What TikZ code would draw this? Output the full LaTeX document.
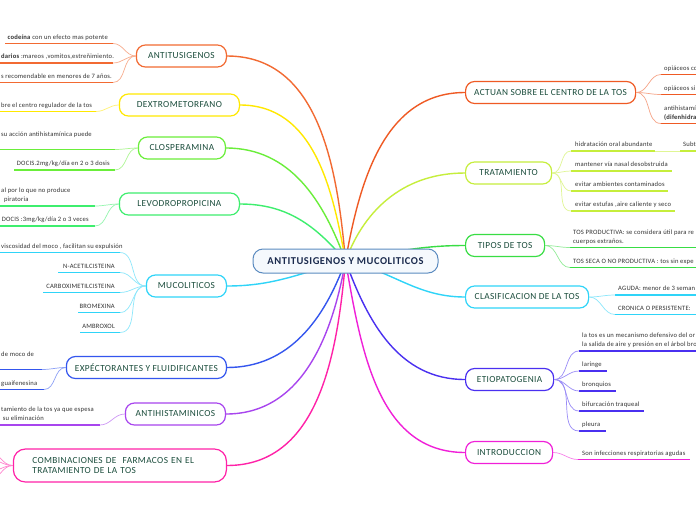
\documentclass[tikz,border=0pt]{standalone}
\usepackage{fontspec}
\setmainfont{Carlito}
\newfontfamily\leaffont[LetterSpace=3]{Carlito}
\newfontfamily\branchfont[LetterSpace=4]{Carlito}
\newfontfamily\rootfont[LetterSpace=5]{Carlito}
\usetikzlibrary{backgrounds}
\definecolor{cOrange}{HTML}{F26A32}
\definecolor{cRed}{HTML}{EF5A24}
\definecolor{cYellow}{HTML}{FFE800}
\definecolor{cLime}{HTML}{C6EE3C}
\definecolor{cGreenA}{HTML}{6AEE3A}
\definecolor{cGreenB}{HTML}{3EEE6E}
\definecolor{cGreenC}{HTML}{38DD44}
\definecolor{cCyan}{HTML}{2FD4F8}
\definecolor{cBlue}{HTML}{3456EE}
\definecolor{cIndigo}{HTML}{4A30F0}
\definecolor{cPurple}{HTML}{A845EE}
\definecolor{cPink}{HTML}{FF22A8}
\definecolor{cMagenta}{HTML}{F020D8}
\definecolor{cRootLine}{HTML}{5B8BC0}
\definecolor{cRootFill}{HTML}{F5F9FD}
\definecolor{cRootText}{HTML}{1B2B4E}
\definecolor{cBranchText}{HTML}{1B4D3C}
\definecolor{cLeafText}{HTML}{333333}
\tikzset{
	root/.style={draw=cRootLine, fill=cRootFill, line width=1pt, rounded corners=10pt,
		minimum width=185pt, minimum height=24pt, text=cRootText,
		font=\rootfont\bfseries\fontsize{10.5}{12}\selectfont},
	branch/.style={draw=#1, fill=white, line width=1.2pt, rounded corners=9pt,
		minimum height=22pt, text=cBranchText, font=\branchfont\fontsize{9.3}{10.8}\selectfont},
	link/.style={draw=#1, line width=1.4pt},
	twig/.style={draw=#1!55, line width=0.7pt},
	uline/.style={line width=1.5pt},
	leaftext/.style={font=\leaffont\fontsize{6.6}{9}\selectfont, text=cLeafText, inner sep=0pt,
		text depth=1.8pt, align=left}
}
% leaf: name, underline from x, to x, y, colour, text anchor, text x, text
\newcommand{\leaf}[8]
{
	% underline
	\draw[#5, uline] (#2,#4) coordinate (#1w) -- (#3,#4) coordinate (#1e);
	% text on it
	\node[leaftext, anchor=#6] (#1) at (#7,#4-2.5) {#8};
}
\begin{document}
\begin{tikzpicture}[x=1pt, y=-1pt]
	% page: 696 x 520
	\useasboundingbox (0,0) rectangle (696,520);
	\begin{scope}[on background layer]
		\fill[white] (0,0) rectangle (696,520);
	\end{scope}
	\clip (0,0) rectangle (696,520);
	
	\node[root] (root) at (345.5,261) {ANTITUSIGENOS Y MUCOLITICOS};
	
	% left branches
	\node[branch=cOrange, minimum width=90pt, anchor=east] (anti) at (227,56) {ANTITUSIGENOS};
	\node[branch=cYellow, minimum width=120pt, anchor=east] (dextro) at (240,105) {DEXTROMETORFANO};
	\node[branch=cGreenA, minimum width=87pt, anchor=east] (closp) at (226,148) {CLOSPERAMINA};
	\node[branch=cGreenB, minimum width=120pt, anchor=east] (levo) at (240,204) {LEVODROPROPICINA};
	\node[branch=cCyan, minimum width=80pt, anchor=east] (muco) at (227,286) {MUCOLITICOS};
	\node[branch=cBlue, minimum width=160pt, anchor=east] (expec) at (227,367.5) {EXPÉCTORANTES Y FLUIDIFICANTES};
	\node[branch=cPurple, minimum width=100pt, anchor=east] (antih) at (226,414) {ANTIHISTAMINICOS};
	\node[branch=cPink, minimum height=33pt, rounded corners=12pt, text width=175pt, inner xsep=19pt,
		align=left, anchor=east] (combi) at (227,465.5) {COMBINACIONES DE~ FARMACOS EN EL\\TRATAMIENTO DE LA TOS};
	
	% right branches
	\node[branch=cRed, minimum width=170pt, anchor=west] (actuan) at (465,92.5) {ACTUAN SOBRE EL CENTRO DE LA TOS};
	\node[branch=cLime, minimum width=86pt, anchor=west] (trat) at (465,173) {TRATAMIENTO};
	\node[branch=cGreenC, minimum width=79pt, anchor=west] (tipos) at (465,245.5) {TIPOS DE TOS};
	\node[branch=cCyan, minimum width=123pt, anchor=west] (clasif) at (465,297) {CLASIFICACION DE LA TOS};
	\node[branch=cIndigo, minimum width=88pt, anchor=west] (etio) at (465,379.5) {ETIOPATOGENIA};
	\node[branch=cMagenta, minimum width=87pt, anchor=west] (intro) at (465,452.5) {INTRODUCCION};
	
	% leaves, left side
	\leaf{a1}{5}{113}{43.5}{cOrange}{south east}{108}{\textbf{codeína} con un efecto mas potente};
	\leaf{a2}{-5}{113}{63}{cOrange}{south west}{1}{\textbf{darios} :mareos ,vomitos,estreñimiento.};
	\leaf{a3}{-5}{113}{82.5}{cOrange}{south west}{1}{s recomendable en menores de 7 años.};
	\leaf{d1}{-5}{96}{111.5}{cYellow}{south west}{1}{bre el centro regulador de la tos};
	\leaf{c1}{-5}{115}{149.5}{cGreenA}{south west}{1}{su acción antihistamínica puede\\\mbox{}};
	\leaf{c2}{14}{115}{170}{cGreenA}{south east}{110}{DOCIS.2mg/kg/día en 2 o 3 dosis};
	\leaf{l1}{-5}{95}{206}{cGreenB}{south west, align=right}{1}{al por lo que no produce\\piratoria\hspace*{42pt}};
	\leaf{l2}{-1}{95}{226}{cGreenB}{south east}{89}{DOCIS :3mg/kg/día 2 o 3 veces};
	\leaf{m1}{-5}{120}{252.5}{cCyan}{south west}{1}{viscosidad del moco , facilitan su expulsión};
	\leaf{m2}{58}{120}{272.5}{cCyan}{south east}{115}{N-ACETILCISTEINA};
	\leaf{m3}{43}{120}{292.5}{cCyan}{south east}{115}{CARBOXIMETILCISTEINA};
	\leaf{m4}{78}{120}{312.5}{cCyan}{south east}{115}{BROMEXINA};
	\leaf{m5}{80}{120}{332.5}{cCyan}{south east}{115}{AMBROXOL};
	\leaf{e1}{-5}{42}{369.5}{cBlue}{south west}{1}{de moco de\\\mbox{}};
	\leaf{e2}{-5}{44}{389.5}{cBlue}{south west}{1}{guaifenesina};
	\leaf{h1}{-5}{100}{425}{cPurple}{south west, align=right}{1}{tamiento de la tos ya que espesa\\su eliminación\hspace*{50pt}};
	
	% leaves, right side
	\leaf{r1}{661}{705}{74.5}{cRed}{south west}{664}{opiáceos co};
	\leaf{r2}{661}{705}{94.5}{cRed}{south west}{664}{opiáceos si};
	\leaf{r3}{661}{705}{123.5}{cRed}{south west}{664}{antihistamí\\\textbf{(difenhidra}};
	\leaf{t1}{571}{655}{151}{cLime}{south west}{575}{hidratación oral abundante};
	\leaf{t5}{680}{705}{151}{cLime}{south west}{683}{Subt};
	\leaf{t2}{571}{672}{171}{cLime}{south west}{575}{mantener vía nasal desobstruida};
	\leaf{t3}{571}{668}{191}{cLime}{south west}{575}{evitar ambientes contaminados};
	\leaf{t4}{571}{675}{211}{cLime}{south west}{575}{evitar estufas ,aire caliente y seco};
	\leaf{p1}{570}{705}{247.5}{cGreenC}{south west}{573}{TOS PRODUCTIVA: se considera útil para re\\cuerpos extraños.};
	\leaf{p2}{570}{705}{267.5}{cGreenC}{south west}{573}{TOS SECA O NO PRODUCTIVA : tos sin expe};
	\leaf{k1}{615}{705}{295}{cCyan}{south west}{618}{AGUDA: menor de 3 seman};
	\leaf{k2}{615}{705}{314.5}{cCyan}{south west}{618}{CRONICA O PERSISTENTE:};
	\leaf{g1}{579}{705}{351}{cIndigo}{south west}{582}{la tos es un mecanismo defensivo del or\\la salida de aire y presión en el árbol bro};
	\leaf{g2}{579}{607}{371}{cIndigo}{south west}{582}{laringe};
	\leaf{g3}{579}{616}{391}{cIndigo}{south west}{582}{bronquios};
	\leaf{g4}{579}{644}{411}{cIndigo}{south west}{582}{bifurcación traqueal};
	\leaf{g5}{579}{606}{431}{cIndigo}{south west}{582}{pleura};
	\leaf{i1}{578}{690}{459.5}{cMagenta}{south west}{582}{Son infecciones respiratorias agudas};
	
	% ends of the pink twigs, off the page
	\coordinate (x1) at (-12,451);
	\coordinate (x2) at (-12,459);
	\coordinate (x3) at (-12,472);
	\coordinate (x4) at (-12,481);
	
	\begin{scope}[on background layer]
		% root to branches
		\draw[link=cOrange] (root.center) to[out=95, in=0] (anti.east);
		\draw[link=cYellow] (root.center) to[out=100, in=0] (dextro.east);
		\draw[link=cGreenA] (root.center) to[out=110, in=0] (closp.east);
		\draw[link=cGreenB] (root.center) to[out=130, in=0] (levo.east);
		\draw[link=cCyan] (root.center) to[out=195, in=0] (muco.east);
		\draw[link=cBlue] (root.center) to[out=-110, in=0] (expec.east);
		\draw[link=cPurple] (root.center) to[out=-100, in=0] (antih.east);
		\draw[link=cPink] (root.center) to[out=-95, in=0] (combi.east);
		\draw[link=cRed] (root.center) to[out=80, in=180] (actuan.west);
		\draw[link=cLime] (root.center) to[out=70, in=180] (trat.west);
		\draw[link=cGreenC] (root.center) to[out=10, in=180] (tipos.west);
		\draw[link=cCyan] (root.center) to[out=-12, in=180] (clasif.west);
		\draw[link=cIndigo] (root.center) to[out=-70, in=180] (etio.west);
		\draw[link=cMagenta] (root.center) to[out=-80, in=180] (intro.west);
	\end{scope}
	
	% branches to leaves
	\foreach \n in {a1,a2,a3} \draw[twig=cOrange] (anti.west) to[out=180, in=0] (\n e);
	\draw[twig=cYellow] (dextro.west) to[out=180, in=0] (d1e);
	\foreach \n in {c1,c2} \draw[twig=cGreenA] (closp.west) to[out=180, in=0] (\n e);
	\foreach \n in {l1,l2} \draw[twig=cGreenB] (levo.west) to[out=180, in=0] (\n e);
	\foreach \n in {m1,m2,m3,m4,m5} \draw[twig=cCyan] (muco.west) to[out=180, in=0] (\n e);
	\foreach \n in {e1,e2} \draw[twig=cBlue] (expec.west) to[out=180, in=0] (\n e);
	\draw[twig=cPurple] (antih.west) to[out=180, in=0] (h1e);
	\foreach \n in {x1,x2,x3,x4} \draw[twig=cPink] (combi.west) to[out=180, in=0] (\n);
	\foreach \n in {r1,r2,r3} \draw[twig=cRed] (actuan.east) to[out=0, in=180] (\n w);
	\foreach \n in {t1,t2,t3,t4} \draw[twig=cLime] (trat.east) to[out=0, in=180] (\n w);
	\draw[twig=cLime] (t1e) -- (t5w);
	\foreach \n in {p1,p2} \draw[twig=cGreenC] (tipos.east) to[out=0, in=180] (\n w);
	\foreach \n in {k1,k2} \draw[twig=cCyan] (clasif.east) to[out=0, in=180] (\n w);
	\foreach \n in {g1,g2,g3,g4,g5} \draw[twig=cIndigo] (etio.east) to[out=0, in=180] (\n w);
	\draw[twig=cMagenta] (intro.east) to[out=0, in=180] (i1w);
\end{tikzpicture}
\end{document}
